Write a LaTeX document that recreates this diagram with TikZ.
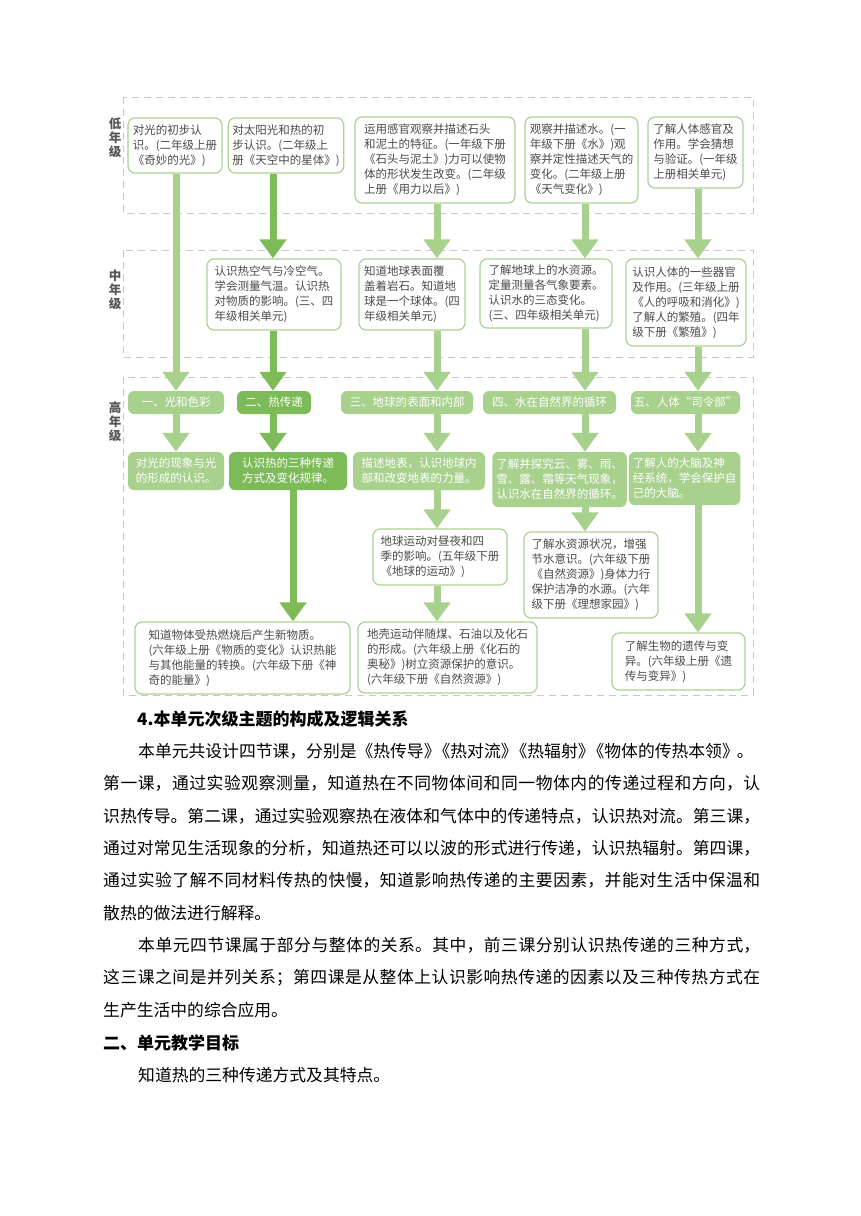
\documentclass[tikz,border=0pt]{standalone}
\usepackage{fontspec}
\setmainfont{Noto Sans CJK SC}
\usetikzlibrary{arrows.meta}
\XeTeXlinebreaklocale "zh"
\XeTeXlinebreakskip=0pt plus 3pt minus 0.4pt
\definecolor{lg}{HTML}{A9D18E}
\definecolor{dg}{HTML}{7DBB59}
\definecolor{bd}{HTML}{A9D390}
\definecolor{tx}{HTML}{4A4A4A}
\definecolor{dsh}{HTML}{C8C8C8}
\definecolor{lb}{HTML}{555555}
\newcommand{\jline}[2]{\parbox{#1}{\parindent=0pt\parfillskip=0pt #2}}
\begin{document}
\begin{tikzpicture}[x=1pt,y=-1pt,
  bx/.style={draw=bd, line width=1.2pt, rounded corners=7pt, fill=white, inner xsep=4pt, inner ysep=2pt, text=tx, font=\fontsize{11.5}{15}\selectfont, align=left},
  fb/.style={fill=lg, rounded corners=6pt, inner xsep=4pt, inner ysep=2pt, text=white, font=\fontsize{11.5}{15}\selectfont, align=left},
  hd/.style={fill=lg, rounded corners=6pt, inner sep=0pt, text=white, font=\fontsize{11.5}{14}\selectfont},
  band/.style={draw=dsh, dash pattern=on 7pt off 5pt, line width=1pt},
  lab/.style={text=lb, font=\fontsize{12.5}{14}\selectfont\bfseries, align=center, inner sep=0pt},
  lt/.style={draw=lg, line width=7pt, -{Triangle[width=26pt,length=19pt]}},
  dk/.style={draw=dg, line width=7pt, -{Triangle[width=26pt,length=19pt]}},
  body/.style={anchor=west, inner sep=0pt, font=\fontsize{16.8}{20}\selectfont},
  bhead/.style={anchor=west, inner sep=0pt, font=\fontsize{17}{20}\selectfont\bfseries}
]
\useasboundingbox (0,0) rectangle (860,1216);
\fill[white] (0,0) rectangle (860,1216);

% bands
\draw[band] (123,97) rectangle (753,213);
\draw[band] (123,250) rectangle (753,357);
\draw[band] (123,377) rectangle (753,695);

\node[lab] (lab1) at (115,138) {低\\年\\级};
\node[lab] (lab2) at (115,290) {中\\年\\级};
\node[lab] (lab3) at (115,422) {高\\年\\级};

% low grade
\node[bx, minimum width=94pt, minimum height=55pt] (L1) at (175,145.5) {对光的初步认\\识。(二年级上册\\《奇妙的光》)};
\node[bx, minimum width=114pt, minimum height=55pt] (L2) at (286,145.5) {对太阳光和热的初\\步认识。(二年级上\\册《天空中的星体》)};
\node[bx, minimum width=160pt, minimum height=86pt] (L3) at (435,160) {运用感官观察并描述石头\\和泥土的特征。(一年级下册\\《石头与泥土》)力可以使物\\体的形状发生改变。(二年级\\上册《用力以后》)};
\node[bx, minimum width=113pt, minimum height=86pt] (L4) at (581.5,160) {观察并描述水。(一\\年级下册《水》)观\\察并定性描述天气的\\变化。(二年级上册\\《天气变化》)};
\node[bx, minimum width=95pt, minimum height=71pt] (L5) at (695.5,152.5) {了解人体感官及\\作用。学会猜想\\与验证。(一年级\\上册相关单元)};

% middle grade
\node[bx, minimum width=134pt, minimum height=71pt] (M1) at (274,294.5) {认识热空气与冷空气。\\学会测量气温。认识热\\对物质的影响。(三、四\\年级相关单元)};
\node[bx, minimum width=106pt, minimum height=71pt] (M2) at (412,294.5) {知道地球表面覆\\盖着岩石。知道地\\球是一个球体。(四\\年级相关单元)};
\node[bx, minimum width=132pt, minimum height=69pt] (M3) at (546,293.5) {了解地球上的水资源。\\定量测量各气象要素。\\认识水的三态变化。\\(三、四年级相关单元)};
\node[bx, minimum width=120pt, minimum height=87pt] (M4) at (686,302.5) {认识人体的一些器官\\及作用。(三年级上册\\《人的呼吸和消化》)\\了解人的繁殖。(四年\\级下册《繁殖》)};

% high grade headers
\node[hd, minimum width=96pt, minimum height=23pt] (H1) at (176,402.5) {一、光和色彩};
\node[hd, fill=dg, minimum width=74pt, minimum height=23pt] (H2) at (274,402.5) {二、热传递};
\node[hd, minimum width=132pt, minimum height=23pt] (H3) at (407,402.5) {三、地球的表面和内部};
\node[hd, minimum width=133pt, minimum height=23pt] (H4) at (549.5,402.5) {四、水在自然界的循环};
\node[hd, minimum width=109pt, minimum height=23pt] (H5) at (685.5,402.5) {五、人体“司令部”};

% high grade row 2
\node[fb, minimum width=96pt, minimum height=38pt] (R1) at (176,471) {对光的现象与光\\的形成的认识。};
\node[fb, fill=dg, minimum width=118pt, minimum height=38pt] (R2) at (288,471) {认识热的三种传递\\方式及变化规律。};
\node[fb, minimum width=132pt, minimum height=38pt] (R3) at (419,471) {描述地表，认识地球内\\部和改变地表的力量。};
\node[fb, minimum width=133pt, minimum height=55pt] (R4) at (559.5,479.5) {了解并探究云、雾、雨、\\雪、露、霜等天气现象，\\认识水在自然界的循环。};
\node[fb, minimum width=107pt, minimum height=53pt] (R5) at (684.5,478.5) {了解人的大脑及神\\经系统，学会保护自\\己的大脑。};

% lower boxes
\node[bx, minimum width=134pt, minimum height=56pt] (C3a) at (440,557) {地球运动对昼夜和四\\季的影响。(五年级下册\\《地球的运动》)};
\node[bx, minimum width=179pt, minimum height=71pt] (C3b) at (447.5,657.5) {地壳运动伴随煤、石油以及化石\\的形成。(六年级上册《化石的\\奥秘》)树立资源保护的意识。\\(六年级下册《自然资源》)};
\node[bx, minimum width=134pt, minimum height=86pt] (C4a) at (591,575) {了解水资源状况，增强\\节水意识。(六年级下册\\《自然资源》)身体力行\\保护洁净的水源。(六年\\级下册《理想家园》)};
\node[bx, minimum width=133pt, minimum height=57pt] (C5) at (678.5,661.5) {了解生物的遗传与变\\异。(六年级上册《遗\\传与变异》)};
\node[bx, minimum width=215pt, minimum height=72pt] (B2) at (242.5,658) {知道物体受热燃烧后产生新物质。\\(六年级上册《物质的变化》认识热能\\与其他能量的转换。(六年级下册《神\\奇的能量》)};

% columns
\coordinate (k1) at (176,0);
\coordinate (k2) at (273,0);
\coordinate (k2b) at (293,0);
\coordinate (k3) at (437,0);
\coordinate (k4) at (585,0);
\coordinate (k5) at (698,0);

\draw[lt] (k1 |- L1.south) -- (k1 |- H1.north);
\draw[dk] (k2 |- L2.south) -- (k2 |- M1.north);
\draw[lt] (k3 |- L3.south) -- (k3 |- M2.north);
\draw[lt] (k4 |- L4.south) -- (k4 |- M3.north);
\draw[lt] (k5 |- L5.south) -- (k5 |- M4.north);
\draw[dk] (k2 |- M1.south) -- (k2 |- H2.north);
\draw[lt] (k3 |- M2.south) -- (k3 |- H3.north);
\draw[lt] (k4 |- M3.south) -- (k4 |- H4.north);
\draw[lt] (k5 |- M4.south) -- (k5 |- H5.north);
\draw[lt] (k1 |- H1.south) -- (k1 |- R1.north);
\draw[dk] (k2 |- H2.south) -- (k2 |- R2.north);
\draw[lt] (k3 |- H3.south) -- (k3 |- R3.north);
\draw[lt] (k4 |- H4.south) -- (k4 |- R4.north);
\draw[lt] (k5 |- H5.south) -- (k5 |- R5.north);
\draw[dk] (k2b |- R2.south) -- (k2b |- B2.north);
\draw[lt] (k3 |- R3.south) -- (k3 |- C3a.north);
\draw[lt] (k3 |- C3a.south) -- (k3 |- C3b.north);
\draw[lt] (k4 |- R4.south) -- (k4 |- C4a.north);
\draw[lt] (k5 |- R5.south) -- (k5 |- C5.north);

% body text
\node[bhead] (t0) at (137,719) {4.本单元次级主题的构成及逻辑关系};
\node[body] (t1) at (138,751) {\makebox[622pt][s]{本单元共设计四节课，分别是《热传导》\kern-7pt《热对流》\kern-7pt《热辐射》\kern-7pt《物体的传热本领》\kern-2pt。}};
\node[body] (t2) at (103,783) {\jline{657pt}{第一课，通过实验观察测量，知道热在不同物体间和同一物体内的传递过程和方向，认}};
\node[body] (t3) at (103,816) {\jline{657pt}{识热传导。第二课，通过实验观察热在液体和气体中的传递特点，认识热对流。第三课，}};
\node[body] (t4) at (103,848) {\jline{657pt}{通过对常见生活现象的分析，知道热还可以以波的形式进行传递，认识热辐射。第四课，}};
\node[body] (t5) at (103,880) {\jline{657pt}{通过实验了解不同材料传热的快慢，知道影响热传递的主要因素，并能对生活中保温和}};
\node[body] (t6) at (103,913) {散热的做法进行解释。};
\node[body] (t7) at (138,945) {\jline{622pt}{本单元四节课属于部分与整体的关系。其中，前三课分别认识热传递的三种方式，}};
\node[body] (t8) at (103,978) {\jline{657pt}{这三课之间是并列关系；第四课是从整体上认识影响热传递的因素以及三种传热方式在}};
\node[body] (t9) at (103,1010) {生产生活中的综合应用。};
\node[bhead] (t10) at (103,1043) {二、单元教学目标};
\node[body] (t11) at (138,1075) {知道热的三种传递方式及其特点。};
\end{tikzpicture}
\end{document}
